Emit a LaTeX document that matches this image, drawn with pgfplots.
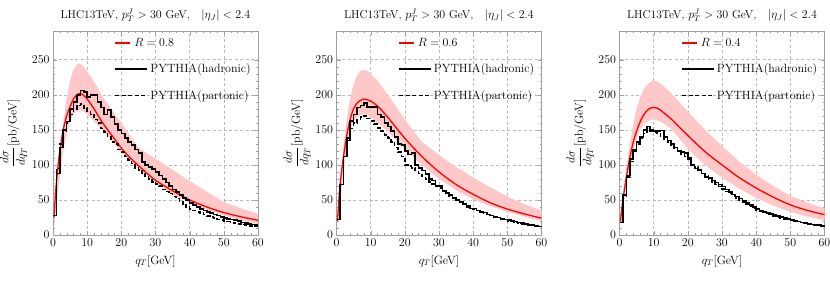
\documentclass[border=0pt]{standalone}
\usepackage{pgfplots}
\usepackage{pgfplotstable}
\pgfplotsset{compat=1.18}
\definecolor{band}{RGB}{255,200,200}
\pgfplotstableread{
x h1 p1 h2 p2 h3 p3
0 28 28 22 22 18 18
1 88 95 72 72 57 55
2 125 130 112 112 85 83
3 150 148 138 135 108 105
4 162 160 163 152 122 120
5 180 172 172 160 133 130
6 190 180 182 165 140 138
7 200 185 185 168 150 145
8 206 187 188 170 155 150
9 204 181 183 166 150 148
10 197 176 183 163 148 147
11 200 172 183 158 148 145
12 200 165 172 153 149 140
13 190 160 168 148 140 137
14 182 152 160 143 135 133
15 172 147 155 138 130 128
16 178 140 148 133 125 124
17 168 133 140 125 120 120
18 158 130 130 118 118 115
19 150 122 128 112 117 112
20 145 118 120 100 110 108
21 138 112 115 98 100 102
22 133 107 117 96 95 97
23 128 102 100 92 93 92
24 122 96 96 88 88 88
25 117 93 92 84 83 84
26 104 88 87 80 81 80
27 100 84 80 76 78 76
28 97 80 78 73 75 72
29 94 76 70 70 72 69
30 90 73 70 67 69 66
31 85 70 63 63 65 62
32 80 65 60 59 61 59
33 75 62 57 56 58 56
34 70 59 53 53 55 53
35 65 55 50 50 52 50
36 61 52 47 47 49 47
37 57 48 44 44 46 44
38 53 43 40 41 43 41
39 50 40 38 38 40 38
40 46 37 38 37 37 36
41 43 35 35 35 35 34
42 40 33 33 33 33 32
43 37 31 32 31 31 30
44 35 29 29 29 30 29
45 33 27 28 28 29 27
46 31 26 26 26 27 26
47 29 24 25 25 26 24
48 28 22 23 23 24 23
49 26 21 22 22 23 22
50 24 20 21 20 21 21
51 23 19 20 19 20 20
52 22 18 19 18 19 19
53 21 17 18 17 18 18
54 20 16 17 16 17 17
55 18 15 16 15 16 16
56 17 14 15 14 15 15
57 16 13 14 14 14 14
58 15 13 13 13 14 14
59 14 12 12 12 13 13
60 14 12 12 12 13 13
}\hist
\pgfplotsset{
  panel/.style={
    scale only axis, width=205bp, height=204bp,
    xmin=0, xmax=60, ymin=0, ymax=291,
    xtick={0,10,...,60}, ytick={0,50,...,250},
    minor x tick num=4, minor y tick num=4,
    grid=major, major grid style={gray!55, dash pattern=on 3bp off 2.5bp, line width=0.5bp},
    axis line style={gray!75}, tick style={gray!75},
    major tick length=4bp, minor tick length=2bp,
    tick align=inside,
    tick label style={font=\fontsize{12}{14}\selectfont},
    title={LHC13TeV, $p_T^J > 30$ GeV,\quad $|\eta_J| < 2.4$},
    title style={at={(0.5,1)}, anchor=south, yshift=0bp, font=\fontsize{11.5}{13}\selectfont},
    xlabel={$q_T$[GeV]},
    xlabel style={font=\fontsize{12}{14}\selectfont, yshift=-2bp},
    ylabel={$\displaystyle\frac{d\sigma}{dq_T}$[pb/GeV]},
    ylabel style={font=\fontsize{12}{14}\selectfont, yshift=-2bp},
    legend style={draw=none, fill=none, at={(0.3,0.975)}, anchor=north west,
      row sep=12bp, inner sep=0bp, font=\fontsize{12}{14}\selectfont},
    legend cell align=left,
  },
  hadr/.style={black, line width=1.6bp, const plot, forget plot},
  part/.style={black, line width=1.6bp, const plot, dash pattern=on 4bp off 2.5bp, forget plot},
  rline/.style={red, line width=1.3bp, smooth, forget plot},
  band/.style={fill=band, draw=none, forget plot},
}
\newcommand{\mylegend}[1]{%
  \addlegendimage{legend image code/.code={\draw[red, line width=1.6bp] (0bp,0bp) -- (15bp,0bp);}}
  \addlegendentry{\hspace*{-16bp}$R=#1$}
  \addlegendimage{legend image code/.code={\draw[black, line width=1.6bp] (0bp,0bp) -- (32bp,0bp);}}
  \addlegendentry{PYTHIA(hadronic)}
  \addlegendimage{legend image code/.code={\draw[black, line width=1.6bp, dash pattern=on 4bp off 2.5bp] (0bp,0bp) -- (32bp,0bp);}}
  \addlegendentry{PYTHIA(partonic)}
}
\begin{document}
\begin{tikzpicture}
\path[use as bounding box] (0,0) rectangle (830bp,285bp);
% Panel 1
\begin{axis}[panel, at={(53bp,50bp)}, anchor=south west]
\addplot[band] coordinates {
(0.3,30) (1,70) (2,120) (3,160) (4,195) (5,220) (6,236) (7,243) (7.5,245) (8,244) (9,240) (10,234) (12,218) (15,194) (18,173) (20,160) (22,146) (25,125) (27,118) (30,109) (35,93) (40,77) (45,62) (50,47) (55,38) (60,30)
(60,16) (55,21) (50,28) (45,36) (40,46) (35,58) (30,75) (25,95) (20,118) (15,147) (12,162) (10,172) (9,176) (8,178) (7,177) (6,172) (5,162) (4,145) (3,120) (2,85) (1,45) (0.3,15)};
\addplot[rline] coordinates {
(0.3,25) (0.6,50) (1,75) (1.5,100) (2,120) (3,150) (4,170) (5,183) (6,194) (7,200) (8,202) (9,199) (10,194) (12,180) (14,164) (16,150) (18,137) (20,124) (22,113) (25,99) (28,86) (30,78) (35,63) (40,50) (45,40) (50,32) (55,26) (60,21)};
\addplot[hadr] table[x=x,y=h1]{\hist};
\addplot[part] table[x=x,y=p1]{\hist};
\mylegend{0.8}
\end{axis}
% Panel 2
\begin{axis}[panel, at={(336.5bp,50bp)}, anchor=south west]
\addplot[band] coordinates {
(0.3,25) (1,70) (2,125) (3,165) (4,195) (5,215) (6,228) (7,234) (8,236) (9,234) (10,230) (12,220) (15,200) (20,165) (25,133) (30,114) (35,97) (40,82) (45,68) (50,55) (55,44) (60,35)
(60,20) (55,26) (50,33) (45,41) (40,51) (35,64) (30,80) (25,100) (20,122) (15,148) (12,160) (10,168) (9,171) (8,172) (7,171) (6,168) (5,162) (4,150) (3,125) (2,90) (1,45) (0.3,15)};
\addplot[rline] coordinates {
(0.3,20) (1,70) (2,110) (3,142) (4,165) (5,180) (6,188) (7,192) (8,194) (9,193) (10,191) (12,184) (15,168) (20,138) (25,112) (30,90) (35,72) (40,58) (45,46) (50,37) (55,30) (60,24)};
\addplot[hadr] table[x=x,y=h2]{\hist};
\addplot[part] table[x=x,y=p2]{\hist};
\mylegend{0.6}
\end{axis}
% Panel 3
\begin{axis}[panel, at={(619.5bp,50bp)}, anchor=south west]
\addplot[band] coordinates {
(0.3,25) (1,55) (2,95) (3,130) (4,158) (5,180) (6,196) (7,207) (8,214) (9,218) (10,220) (11,219) (12,216) (15,203) (20,176) (25,150) (30,127) (35,105) (40,86) (45,70) (50,56) (55,46) (60,38)
(60,21) (55,26) (50,33) (45,42) (40,53) (35,66) (30,82) (25,100) (20,123) (15,152) (12,162) (10,165) (9,164) (8,162) (7,158) (6,150) (5,138) (4,122) (3,100) (2,70) (1,40) (0.3,15)};
\addplot[rline] coordinates {
(0.3,20) (1,50) (2,82) (3,110) (4,132) (5,148) (6,161) (7,171) (8,177) (9,181) (10,182) (11,181) (12,178) (15,166) (20,142) (25,119) (30,100) (35,82) (40,67) (45,54) (50,43) (55,35) (60,29)};
\addplot[hadr] table[x=x,y=h3]{\hist};
\addplot[part] table[x=x,y=p3]{\hist};
\mylegend{0.4}
\end{axis}
\end{tikzpicture}
\end{document}
